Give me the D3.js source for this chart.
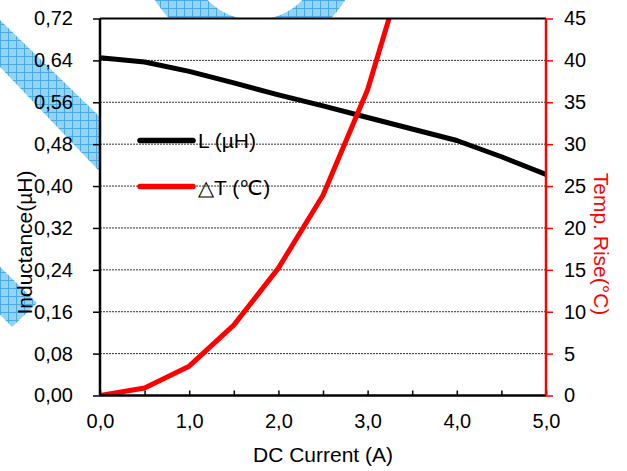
<!DOCTYPE html>
<meta charset='utf-8'>
<style>
    html, body {
        margin: 0;
        background: white;
    }

    text {
        font-family: 'Liberation Sans', Arial, sans-serif;
    }

    .axis path {
        display: none;
    }

    .axis text {
        font-size: 20px;
        fill: black;
    }

    .grid line {
        stroke: #333;
        stroke-width: 1;
        stroke-dasharray: 2, 1;
    }
</style>
<title>Inductance / Temp rise vs DC current</title>
<body>

<script src='https://d3js.org/d3.v7.min.js'></script>
<script>

	// values
	let current = [0, 0.5, 1.0, 1.5, 2.0, 2.5, 3.0, 3.5, 4.0, 4.5, 5.0];
	let inductance = [0.645, 0.637, 0.619, 0.597, 0.574, 0.553, 0.531, 0.509, 0.487, 0.456, 0.422];
	let tempRise = [0, 0.9, 3.5, 8.4, 15.2, 23.9, 36.5, 54.2];
	let xTicks = [0, 0.5, 1, 1.5, 2, 2.5, 3, 3.5, 4, 4.5, 5];
	let yLeftTicks = [0, 0.08, 0.16, 0.24, 0.32, 0.40, 0.48, 0.56, 0.64, 0.72];
	let yRightTicks = [0, 5, 10, 15, 20, 25, 30, 35, 40, 45];
	let seriesNames = ['L (µH)', '△T (℃)'];

	let margin = {top: 18.5, right: 81, bottom: 75.5, left: 100},
		width = 627 - margin.left - margin.right,
		height = 471 - margin.top - margin.bottom;

	let comma = function (f) {
		return function (d) { return d3.format(f)(d).replace('.', ','); };
	};

	let svg = d3.select('body').append('svg')
		.attr('width', 627)
		.attr('height', 471);

	// hatched watermark behind the chart
	let defs = svg.append('defs');
	let pat = defs.append('pattern')
		.attr('id', 'hatch')
		.attr('patternUnits', 'userSpaceOnUse')
		.attr('width', 8)
		.attr('height', 8);
	pat.append('rect').attr('width', 8).attr('height', 8).attr('fill', '#93d3f3');
	pat.append('path').attr('d', 'M0,0.5H8M0.5,0V8')
		.attr('stroke', '#4aaae8').attr('stroke-width', 1);

	let wm = svg.append('g').attr('fill', 'url(#hatch)');
	wm.append('path').attr('d', 'M-20,0.6L150,165.5L150,224.5L-20,46Z');
	wm.append('path').attr('d', 'M-10,257L37,303L12,327L-10,304Z');
	wm.append('path')
		.attr('fill-rule', 'evenodd')
		.attr('d', 'M138,-59a112,112 0 1,0 224,0a112,112 0 1,0 -224,0Z' +
			'M189,-46a66,66 0 1,0 132,0a66,66 0 1,0 -132,0Z');

	let g = svg.append('g')
		.attr('transform', 'translate(' + margin.left + ',' + margin.top + ')');

	g.append('rect')
		.attr('width', width)
		.attr('height', height)
		.attr('fill', 'white');

	let x = d3.scaleLinear().domain([0, 5]).range([0, width]);
	let yL = d3.scaleLinear().domain([0, 0.72]).range([height, 0]);
	let yR = d3.scaleLinear().domain([0, 45]).range([height, 0]);

	// gridlines
	g.append('g')
		.attr('class', 'grid')
		.selectAll('line')
		.data(yLeftTicks.slice(1, -1))
		.enter().append('line')
		.attr('x1', 0)
		.attr('x2', width)
		.attr('y1', function (d) { return yL(d); })
		.attr('y2', function (d) { return yL(d); });

	// legend (inside plot, no box)
	let legend = g.append('g');
	let legendColors = ['black', 'red'];
	let legendY = [122, 168];
	seriesNames.forEach(function (name, i) {
		legend.append('line')
			.attr('x1', 40).attr('x2', 93)
			.attr('y1', legendY[i]).attr('y2', legendY[i])
			.attr('stroke', legendColors[i])
			.attr('stroke-width', 5.5)
			.attr('stroke-linecap', 'round');
		legend.append('text')
			.attr('x', 98)
			.attr('y', legendY[i] + 7.5 + (i ? 1 : 0))
			.attr('font-size', '21px')
			.text(name);
	});

	defs.append('clipPath').attr('id', 'plotclip')
		.append('rect').attr('width', width).attr('height', height);

	let lineL = d3.line()
		.x(function (d, i) { return x(current[i]); })
		.y(function (d) { return yL(d); });

	let lineT = d3.line()
		.x(function (d, i) { return x(current[i]); })
		.y(function (d) { return yR(d); });

	let lines = g.append('g').attr('clip-path', 'url(#plotclip)');

	lines.append('path')
		.datum(inductance)
		.attr('fill', 'none')
		.attr('stroke', 'black')
		.attr('stroke-width', 5)
		.attr('stroke-linejoin', 'round')
		.attr('d', lineL);

	lines.append('path')
		.datum(tempRise)
		.attr('fill', 'none')
		.attr('stroke', 'red')
		.attr('stroke-width', 5)
		.attr('stroke-linejoin', 'round')
		.attr('d', lineT);

	// frame: top border
	g.append('line')
		.attr('x1', 0).attr('x2', width)
		.attr('y1', 0).attr('y2', 0)
		.attr('stroke', 'black').attr('stroke-width', 2);

	// axes
	let bottom = g.append('g')
		.attr('class', 'axis')
		.attr('transform', 'translate(0,' + height + ')')
		.call(d3.axisBottom(x)
			.tickValues(xTicks)
			.tickSize(-5)
			.tickPadding(18)
			.tickFormat(function (d) { return d % 1 === 0 ? comma('.1f')(d) : ''; }));
	bottom.selectAll('.tick line').attr('stroke', 'black').attr('stroke-width', 1.5);

	let left = g.append('g')
		.attr('class', 'axis')
		.call(d3.axisLeft(yL)
			.tickValues(yLeftTicks)
			.tickSize(7)
			.tickPadding(20)
			.tickFormat(comma('.2f')));
	left.selectAll('.tick line').attr('stroke', 'black').attr('stroke-width', 1.5);

	let right = g.append('g')
		.attr('class', 'axis')
		.attr('transform', 'translate(' + width + ',0)')
		.call(d3.axisRight(yR)
			.tickValues(yRightTicks)
			.tickSize(7)
			.tickPadding(11));
	right.selectAll('.tick line').attr('stroke', 'red').attr('stroke-width', 1.5);
	right.selectAll('text').attr('fill', 'red');

	g.append('line')
		.attr('x1', 0).attr('x2', width)
		.attr('y1', height).attr('y2', height)
		.attr('stroke', 'black').attr('stroke-width', 2.5);
	g.append('line')
		.attr('x1', 0).attr('x2', 0)
		.attr('y1', 0).attr('y2', height)
		.attr('stroke', 'black').attr('stroke-width', 2.5);
	g.append('line')
		.attr('x1', width).attr('x2', width)
		.attr('y1', 0).attr('y2', height)
		.attr('stroke', 'red').attr('stroke-width', 2.5);

	// axis titles
	svg.append('text')
		.attr('x', margin.left + width / 2)
		.attr('y', 462)
		.attr('text-anchor', 'middle')
		.attr('font-size', '21px')
		.text('DC Current (A)');

	svg.append('text')
		.attr('transform', 'translate(31.5,242.5) rotate(-90)')
		.attr('text-anchor', 'middle')
		.attr('font-size', '21px')
		.text('Inductance(µH)');

	svg.append('text')
		.attr('transform', 'translate(594,244) rotate(90)')
		.attr('text-anchor', 'middle')
		.attr('font-size', '21px')
		.attr('fill', 'red')
		.text('Temp. Rise(°C)');

</script>
</body>
